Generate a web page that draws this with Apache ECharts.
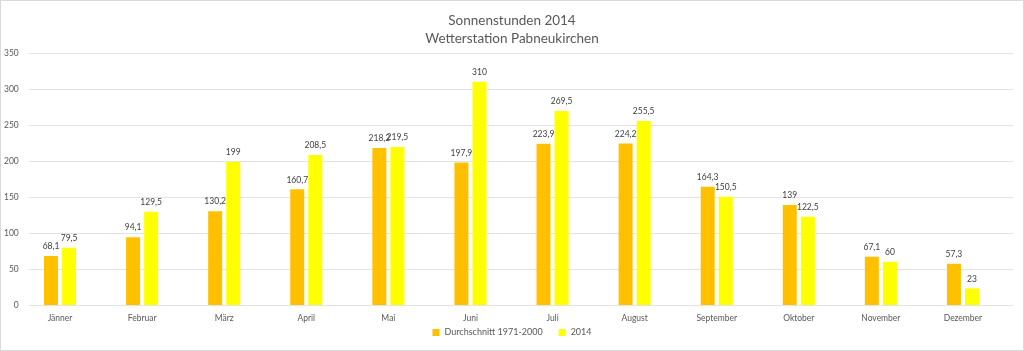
<!DOCTYPE html>
<html><head><meta charset="utf-8">
<script src="https://cdn.jsdelivr.net/npm/echarts@6/dist/echarts.min.js"></script>
<style>
html,body{margin:0;padding:0;background:#fff;}
#c{width:1022px;height:349px;border:1px solid #d9d9d9;}
</style></head>
<body><div id="c"></div>
<script>
const categories = ['Jänner','Februar','März','April','Mai','Juni','Juli','August','September','Oktober','November','Dezember'];
const avg19712000 = [68.1, 94.1, 130.2, 160.7, 218.2, 197.9, 223.9, 224.2, 164.3, 139, 67.1, 57.3];
const year2014 = [79.5, 129.5, 199, 208.5, 219.5, 310, 269.5, 255.5, 150.5, 122.5, 60, 23];
const seriesNames = ['Durchschnitt 1971-2000', '2014'];
const titleLines = ['Sonnenstunden 2014', 'Wetterstation Pabneukirchen'];

const font = 'Lato, "Open Sans", sans-serif';
const fmt = p => String(p.value).replace('.', ',');
const chart = echarts.init(document.getElementById('c'), null, {renderer:'canvas'});
chart.setOption({
  animation:false,
  textStyle:{fontFamily:font},
  title:{text:titleLines.join('\n'), left:'center', top:6,
    textStyle:{fontFamily:font, fontSize:13.5, fontWeight:'normal', color:'#595959', lineHeight:18}},
  legend:{data:seriesNames, bottom:8, left:'center', itemWidth:7, itemHeight:7, itemGap:16, icon:'rect',
    textStyle:{fontFamily:font, fontSize:9, color:'#595959'}},
  grid:[
    {left:27, right:10, top:52, bottom:45},
    {left:18, right:19, top:52, bottom:45}
  ],
  xAxis:[
    {gridIndex:0, type:'category', data:categories, show:false},
    {gridIndex:1, type:'category', data:categories,
     axisLine:{show:false}, axisTick:{show:false},
     axisLabel:{fontFamily:font, fontSize:8.5, color:'#595959', margin:9}}
  ],
  yAxis:[
    {gridIndex:0, type:'value', min:0, max:350, interval:50,
     axisLine:{show:false}, axisTick:{show:false},
     splitLine:{lineStyle:{color:'#e3e3e3'}},
     axisLabel:{fontFamily:font, fontSize:8.5, color:'#595959', margin:10}},
    {gridIndex:1, type:'value', min:0, max:350, interval:50, show:false, splitLine:{show:false}}
  ],
  series:[
    {name:seriesNames[0], type:'bar', xAxisIndex:1, yAxisIndex:1, data:avg19712000,
     barWidth:14, barGap:'29%', itemStyle:{color:'#FFC000'},
     label:{show:true, position:'top', distance:5, formatter:fmt, fontFamily:font, fontSize:8.5, color:'#404040'}},
    {name:seriesNames[1], type:'bar', xAxisIndex:1, yAxisIndex:1, data:year2014,
     barWidth:14, barGap:'29%', itemStyle:{color:'#FFFF00'},
     label:{show:true, position:'top', distance:5, formatter:fmt, fontFamily:font, fontSize:8.5, color:'#404040'}}
  ]
});
</script></body></html>
